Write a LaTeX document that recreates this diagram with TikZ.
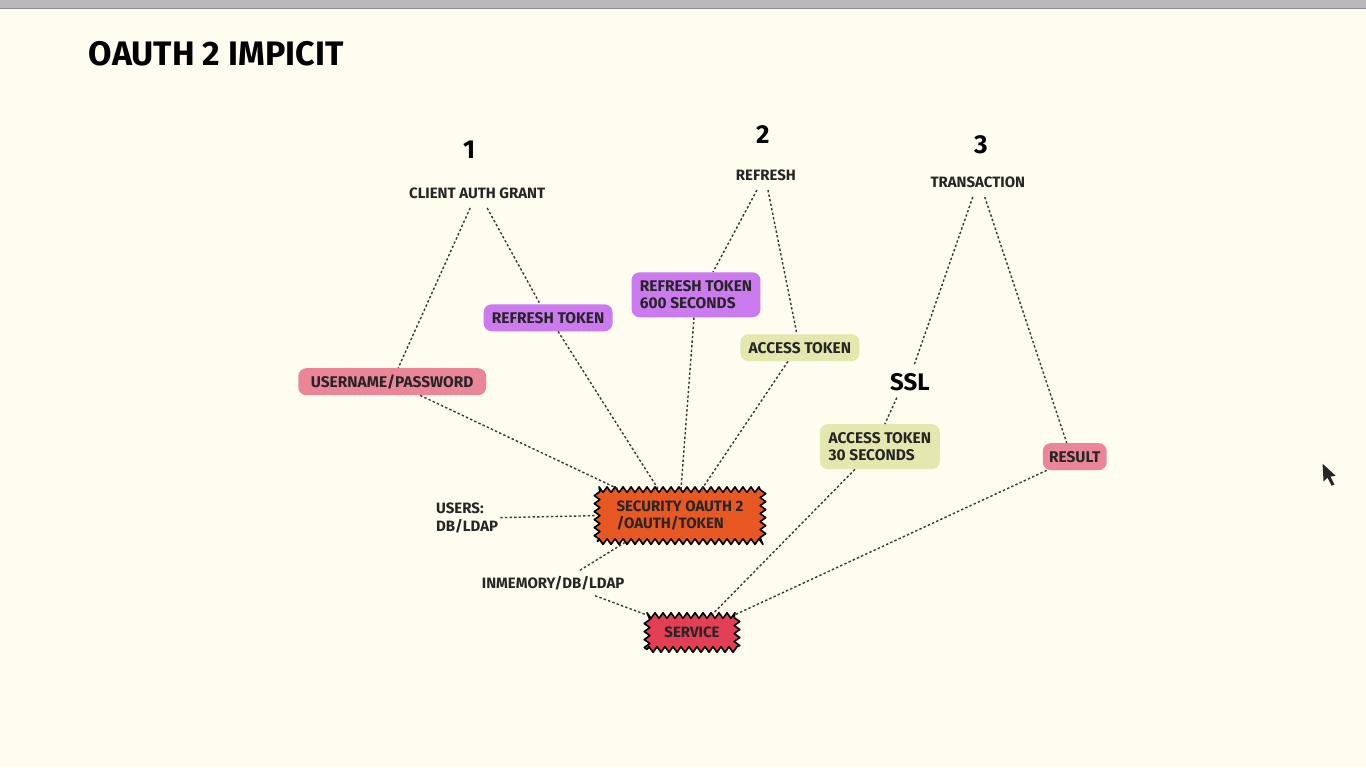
\documentclass[tikz,border=0pt]{standalone}
\usepackage{fontspec}
\setmainfont{Fira Sans}
\usetikzlibrary{decorations.pathmorphing}

\definecolor{paper}{RGB}{255,252,240}
\definecolor{barGrey}{RGB}{186,184,186}
\definecolor{pinkTok}{RGB}{234,134,152}
\definecolor{purpleTok}{RGB}{204,122,240}
\definecolor{yellowTok}{RGB}{228,232,174}
\definecolor{secOrange}{RGB}{232,88,34}
\definecolor{servRed}{RGB}{226,62,84}
\definecolor{linkGrey}{RGB}{55,55,55}

\tikzset{
  pill/.style={rounded corners=8pt, inner sep=0pt, align=left, text=black!85,
    font=\fontsize{15.5}{17}\selectfont\bfseries},
  zig/.style={draw=black, line width=1.6pt, line join=round, inner sep=0pt, align=left, text=black!85,
    decorate, decoration={zigzag, segment length=8pt, amplitude=2.8pt},
    font=\fontsize{15}{17}\selectfont\bfseries},
  plain/.style={inner xsep=2pt, align=left, text=black!85,
    font=\fontsize{15}{18}\selectfont\bfseries},
  number/.style={font=\fontsize{26}{28}\selectfont\bfseries},
  link/.style={draw=linkGrey, line width=1.4pt, dash pattern=on 2.4pt off 2.2pt}
}

\begin{document}
\begin{tikzpicture}[x=1pt, y=-1pt]
	\fill[paper] (0,0) rectangle (1366,768);
	\fill[barGrey] (0,0) rectangle (1366,8);
	\draw[black!45, line width=1pt] (0,8.5) -- (1366,8.5);
	\useasboundingbox (0,0) rectangle (1366,768);

	\node[anchor=west, font=\fontsize{34}{38}\selectfont\bfseries] (title) at (85,54) {OAUTH 2 IMPICIT};

	\node[number] (one)   at (469,150) {1};
	\node[number] (two)   at (763,135) {2};
	\node[number] (three) at (981,145) {3};

	\node[plain, inner ysep=9.5pt] (grant)       at (477,193) {CLIENT AUTH GRANT};
	\node[plain, inner ysep=9.5pt] (refresh)     at (766,175) {REFRESH};
	\node[plain, inner ysep=9.5pt] (transaction) at (978,182) {TRANSACTION};
	\node[font=\fontsize{24}{26}\selectfont\bfseries, inner ysep=7pt] (ssl) at (910,382) {SSL};

	\node[pill, fill=pinkTok, minimum width=188pt, minimum height=27pt] (userpw) at (392,382) {USERNAME/PASSWORD};
	\node[pill, fill=purpleTok, minimum width=129pt, minimum height=27pt] (refreshtok) at (548,318) {REFRESH TOKEN};
	\node[pill, fill=purpleTok, minimum width=129pt, minimum height=45pt] (refreshsix) at (696,295) {REFRESH TOKEN\\600 SECONDS};
	\node[pill, fill=yellowTok, minimum width=119pt, minimum height=27pt] (access) at (800,348) {ACCESS TOKEN};
	\node[pill, fill=yellowTok, minimum width=120pt, minimum height=45pt] (accessthirty) at (880,447) {ACCESS TOKEN\\30 SECONDS};
	\node[pill, fill=pinkTok, minimum width=64pt, minimum height=27pt] (result) at (1075,457) {RESULT};

	\node[zig, fill=secOrange, minimum width=166pt, minimum height=52pt] (security) at (680,516) {SECURITY OAUTH 2\\/OAUTH/TOKEN};
	\node[zig, fill=servRed, minimum width=90pt, minimum height=34pt] (service) at (692,633) {SERVICE};

	\node[plain] (users)    at (467,518) {USERS:\\DB/LDAP};
	\node[plain, inner ysep=5pt] (inmemory) at (553,584) {INMEMORY/DB/LDAP};

	\draw[link] ([xshift=-7pt]grant.south) -- ([xshift=6pt]userpw.north);
	\draw[link] ([xshift=10pt]grant.south) -- ([xshift=-8pt]refreshtok.north);
	\draw[link] ([xshift=28pt]userpw.south) -- ([xshift=-62pt]security.north);
	\draw[link] ([xshift=10pt]refreshtok.south) -- ([xshift=-22pt]security.north);
	\draw[link] ([xshift=-9pt]refresh.south) -- ([xshift=17pt]refreshsix.north);
	\draw[link] ([xshift=2pt]refresh.south) -- ([xshift=-3pt]access.north);
	\draw[link] ([xshift=-2pt]refreshsix.south) -- ([xshift=1pt]security.north);
	\draw[link] ([xshift=-12pt]access.south) -- ([xshift=22pt]security.north);
	\draw[link] ([xshift=-5pt]transaction.south) -- ([xshift=4pt]ssl.north);
	\draw[link] ([xshift=-13pt]ssl.south) -- ([xshift=5pt]accessthirty.north);
	\draw[link] ([xshift=7pt]transaction.south) -- ([xshift=-8pt]result.north);
	\draw[link] ([xshift=-25pt]accessthirty.south) -- ([xshift=20pt]service.north);
	\draw[link] ([xshift=-28pt]result.south) -- ([xshift=43pt]service.north);
	\draw[link] (users.east) -- (security.west);
	\draw[link] ([xshift=-55pt]security.south) -- ([xshift=25pt]inmemory.north);
	\draw[link] ([xshift=42pt]inmemory.south) -- (service.north west);

	\fill[black!85] (1323,464) -- (1324,482) -- (1328,478) -- (1332,486) -- (1335,485) -- (1331,477) -- (1336,476) -- cycle;
\end{tikzpicture}
\end{document}
